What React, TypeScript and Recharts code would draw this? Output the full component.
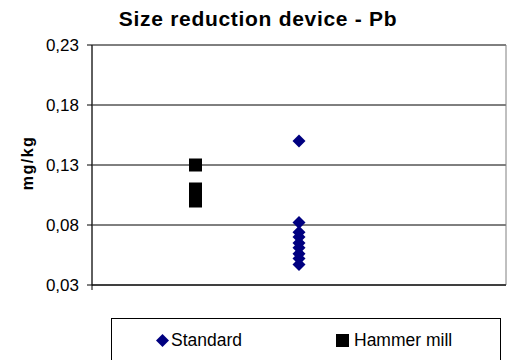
import {
  CartesianGrid,
  Legend,
  ReferenceArea,
  Scatter,
  ScatterChart,
  XAxis,
  YAxis,
} from 'recharts'

const standardValues = [0.15, 0.082, 0.074, 0.07, 0.065, 0.061, 0.056, 0.052, 0.047]
const hammerValues = [0.13, 0.11, 0.106, 0.103, 0.1]
const standardX = 2
const hammerX = 1
const yTicks = [0.03, 0.08, 0.13, 0.18, 0.23]

const standardData = standardValues.map((y) => ({ x: standardX, y }))
const hammerData = hammerValues.map((y) => ({ x: hammerX, y }))

const NAVY = '#000080'
const FONT = 'Arial, "Liberation Sans", sans-serif'

const Diamond = (props: any) => {
  const { cx, cy } = props
  const r = 6.5
  return (
    <path
      d={`M${cx},${cy - r}L${cx + r},${cy}L${cx},${cy + r}L${cx - r},${cy}Z`}
      fill={NAVY}
    />
  )
}

const Square = (props: any) => {
  const { cx, cy } = props
  return <rect x={cx - 6.5} y={cy - 6.5} width={13} height={13} fill='#000' />
}

const LegendBox = () => (
  <div
    style={{
      position: 'relative',
      width: '100%',
      height: '100%',
      fontFamily: FONT,
      fontSize: 17.5,
      color: '#000',
    }}
  >
    <span style={{ position: 'absolute', left: 44, top: 11, whiteSpace: 'nowrap' }}>
      <svg width={13} height={13} style={{ marginRight: 2, verticalAlign: -1 }}>
        <path d='M6.5,0L13,6.5L6.5,13L0,6.5Z' fill={NAVY} />
      </svg>
      Standard
    </span>
    <span style={{ position: 'absolute', left: 224, top: 11, whiteSpace: 'nowrap' }}>
      <svg width={13} height={13} style={{ marginRight: 5, verticalAlign: -1 }}>
        <rect width={13} height={13} fill='#000' />
      </svg>
      Hammer mill
    </span>
  </div>
)

export default function App() {
  return (
    <div style={{ position: 'absolute', left: 0, top: 0, width: 508, height: 360, background: '#fff' }}>
      <div
        style={{
          position: 'absolute',
          left: 0,
          top: 7,
          width: 516,
          textAlign: 'center',
          fontFamily: FONT,
          fontWeight: 'bold',
          fontSize: 21,
          letterSpacing: 0.7,
          zIndex: 1,
        }}
      >
        Size reduction device - Pb
      </div>
      <ScatterChart
        width={508}
        height={360}
        margin={{ top: 45, right: 2, bottom: 70, left: 32 }}
      >
        <CartesianGrid horizontal vertical={false} stroke='#000' />
        <XAxis
          type='number'
          dataKey='x'
          domain={[0, 4]}
          ticks={[0]}
          tickFormatter={() => ''}
          tickSize={5}
          height={5}
          axisLine={{ stroke: '#000' }}
          tickLine={{ stroke: '#000' }}
        />
        <YAxis
          type='number'
          dataKey='y'
          domain={[0.03, 0.23]}
          ticks={yTicks}
          width={60}
          tickSize={5}
          tickMargin={8}
          tickFormatter={(v: number) => v.toFixed(2).replace('.', ',')}
          tick={{ fill: '#000', fontSize: 17, fontFamily: FONT }}
          axisLine={{ stroke: '#000' }}
          tickLine={{ stroke: '#000' }}
          label={{
            content: () => (
              <text
                x={27}
                y={163}
                transform='rotate(-90 27 163)'
                textAnchor='middle'
                dominantBaseline='central'
                fontFamily={FONT}
                fontWeight='bold'
                fontSize={16}
                letterSpacing={1.5}
                fill='#000'
              >
                mg/kg
              </text>
            ),
          }}
        />
        <ReferenceArea
          x1={0}
          x2={4}
          y1={0.03}
          y2={0.23}
          fill='none'
          stroke='#808080'
          ifOverflow='visible'
        />
        <Scatter
          name='Standard'
          data={standardData}
          shape={Diamond}
          isAnimationActive={false}
        />
        <Scatter
          name='Hammer mill'
          data={hammerData}
          shape={Square}
          isAnimationActive={false}
        />
        <Legend
          layout='horizontal'
          verticalAlign='middle'
          content={LegendBox}
          wrapperStyle={{
            position: 'absolute',
            left: 111,
            top: 318,
            width: 390,
            height: 46,
            border: '1px solid #000',
            boxSizing: 'border-box',
            margin: 0,
          }}
        />
      </ScatterChart>
    </div>
  )
}
